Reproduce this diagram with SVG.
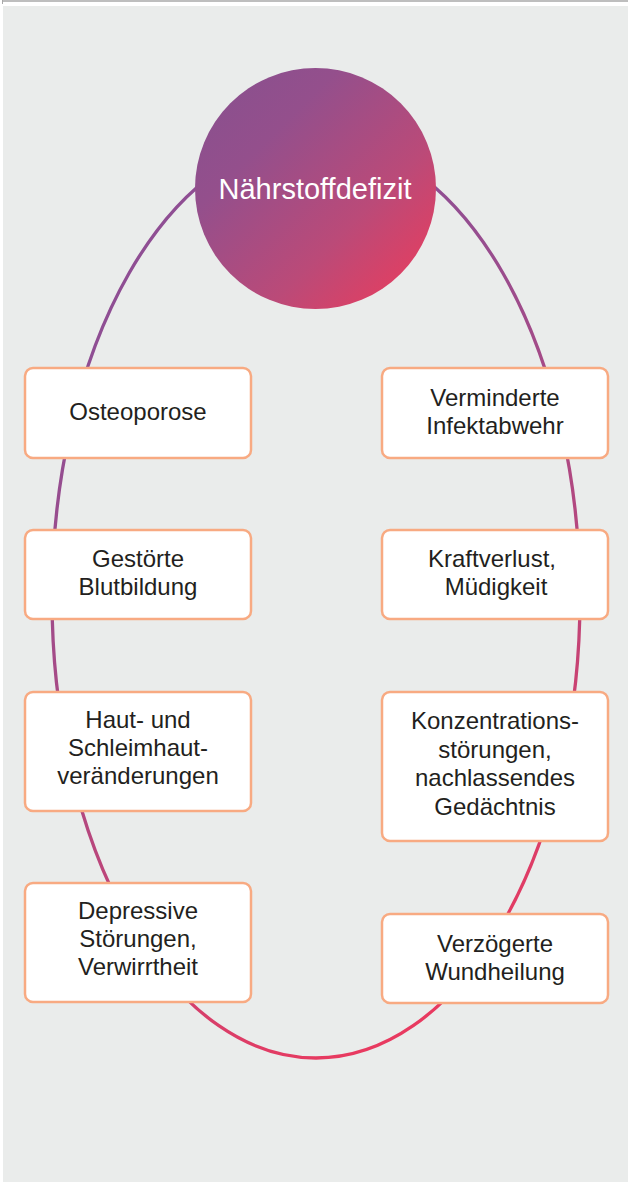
<svg xmlns="http://www.w3.org/2000/svg" width="628" height="1183" viewBox="0 0 628 1183">
<defs>
<linearGradient id="gCircle" x1="0" y1="0" x2="1" y2="1">
<stop offset="0" stop-color="#86508f"/>
<stop offset="0.3" stop-color="#944f8c"/>
<stop offset="0.65" stop-color="#bb4a78"/>
<stop offset="1" stop-color="#f23a58"/>
</linearGradient>
<linearGradient id="gRing" gradientUnits="userSpaceOnUse" x1="150" y1="350" x2="520" y2="950">
<stop offset="0" stop-color="#8f4e93"/>
<stop offset="0.5" stop-color="#b24880"/>
<stop offset="1" stop-color="#e83a60"/>
</linearGradient>
<style>
.box{fill:#ffffff;stroke:#f8aa82;stroke-width:2.5}
.t{font-family:"Liberation Sans",Arial,sans-serif;font-size:24px;fill:#231f20;text-anchor:middle}
.title{font-family:"Liberation Sans",Arial,sans-serif;font-size:29px;fill:#ffffff;text-anchor:middle}
</style>
</defs>
<rect x="0" y="0" width="628" height="1183" fill="#ffffff"/>
<rect x="3" y="6" width="625" height="1176" fill="#eaeceb"/>
<line x1="2" y1="1" x2="628" y2="1" stroke="#a8a8a8" stroke-width="1.5"/>
<line x1="2.5" y1="0" x2="2.5" y2="4" stroke="#a8a8a8" stroke-width="1"/>
<g id="connectors">
<ellipse cx="316" cy="598" rx="264" ry="460" fill="none" stroke="url(#gRing)" stroke-width="3.3"/>
</g>
<g id="center">
<circle cx="315.5" cy="188.5" r="120.5" fill="url(#gCircle)"/>
<text class="title" x="315" y="199">Nährstoffdefizit</text>
</g>
<g id="osteoporose">
<rect class="box" x="25" y="368" width="226" height="90" rx="8"/>
<text class="t" x="138" y="420">Osteoporose</text>
</g>
<g id="infektabwehr">
<rect class="box" x="382" y="368" width="226" height="90" rx="8"/>
<text class="t" x="495" y="406">Verminderte</text>
<text class="t" x="495" y="434">Infektabwehr</text>
</g>
<g id="blutbildung">
<rect class="box" x="25" y="530" width="226" height="89" rx="8"/>
<text class="t" x="138" y="567">Gestörte</text>
<text class="t" x="138" y="595">Blutbildung</text>
</g>
<g id="kraftverlust">
<rect class="box" x="382" y="530" width="226" height="89" rx="8"/>
<text class="t" x="492" y="567">Kraftverlust,</text>
<text class="t" x="496" y="595">Müdigkeit</text>
</g>
<g id="haut">
<rect class="box" x="25" y="692" width="226" height="119" rx="8"/>
<text class="t" x="138" y="728">Haut- und</text>
<text class="t" x="138" y="756">Schleimhaut-</text>
<text class="t" x="138" y="784">veränderungen</text>
</g>
<g id="konzentration">
<rect class="box" x="382" y="692" width="226" height="149" rx="8"/>
<text class="t" x="495" y="729">Konzentrations-</text>
<text class="t" x="495" y="757.5">störungen,</text>
<text class="t" x="495" y="786">nachlassendes</text>
<text class="t" x="495" y="814.5">Gedächtnis</text>
</g>
<g id="depressive">
<rect class="box" x="25" y="883" width="226" height="119" rx="8"/>
<text class="t" x="138" y="919">Depressive</text>
<text class="t" x="138" y="947">Störungen,</text>
<text class="t" x="138" y="975">Verwirrtheit</text>
</g>
<g id="wundheilung">
<rect class="box" x="382" y="914" width="226" height="89" rx="8"/>
<text class="t" x="495" y="951.5">Verzögerte</text>
<text class="t" x="495" y="979.5">Wundheilung</text>
</g>
</svg>
